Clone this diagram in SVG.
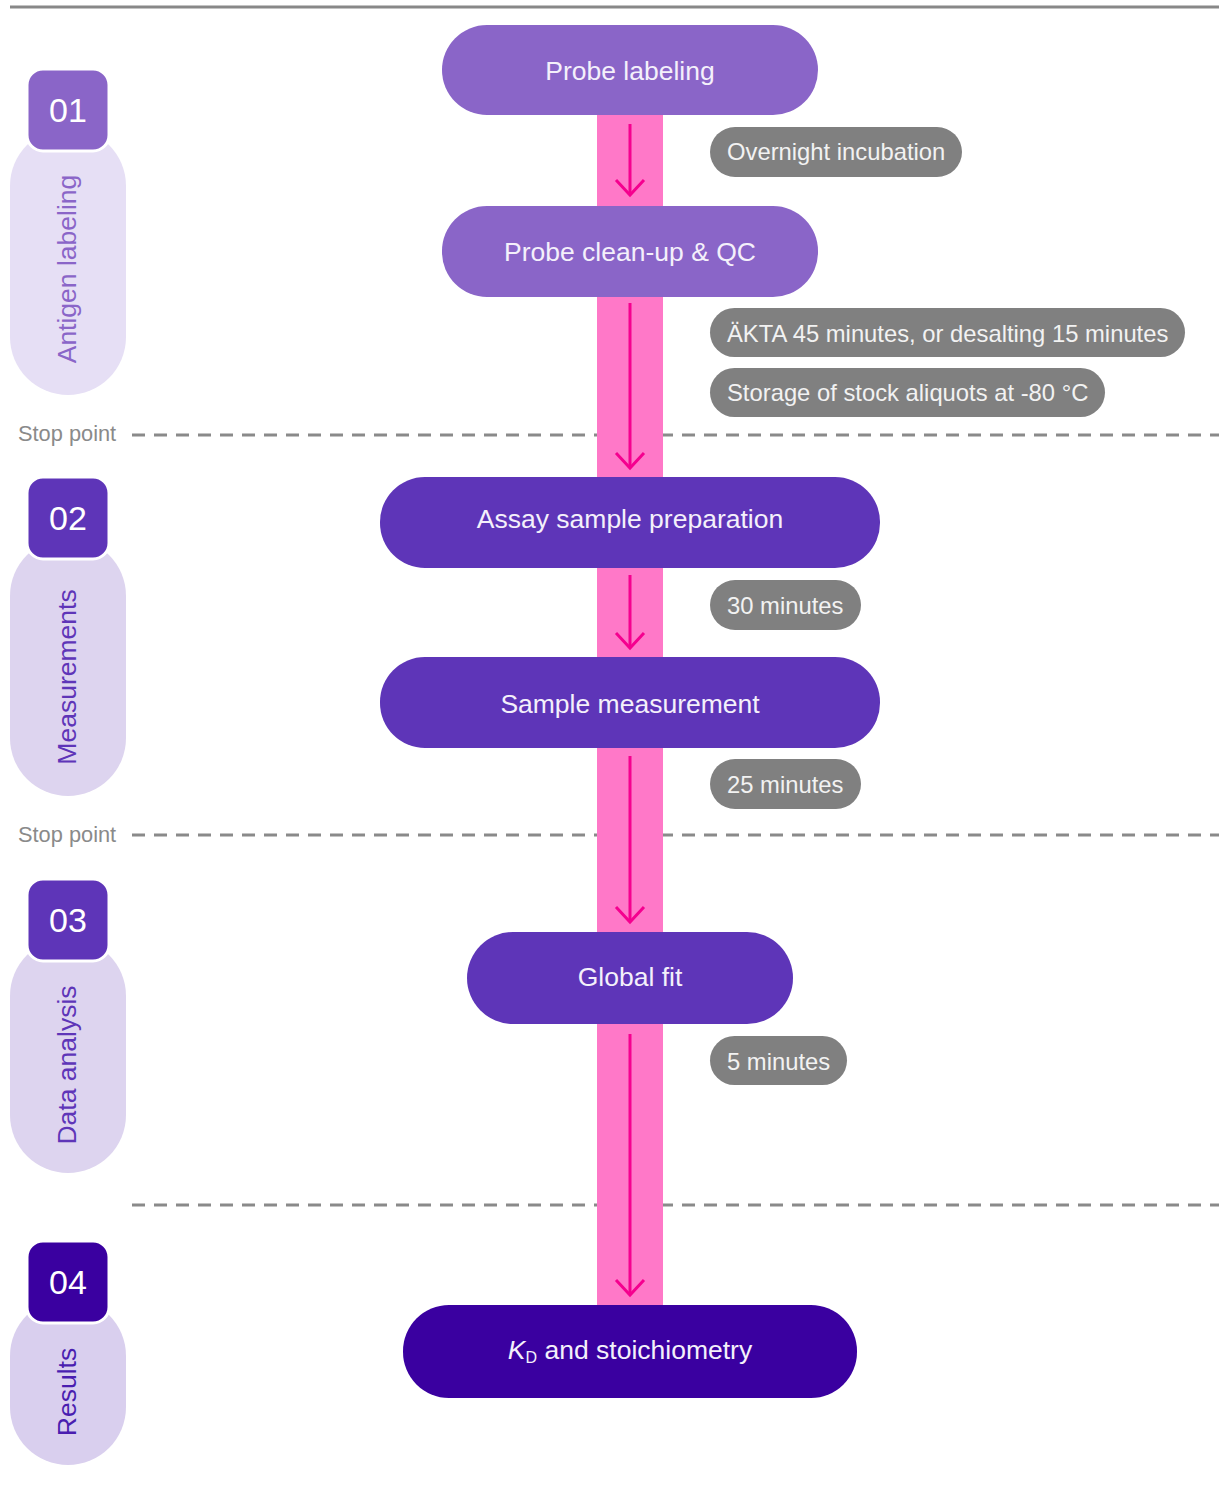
<svg xmlns="http://www.w3.org/2000/svg" width="1219" height="1492" viewBox="0 0 1219 1492">
<style>
.node text{font-family:"Liberation Sans",Arial,sans-serif;font-size:26.5px;fill:#f4f0fb;text-anchor:middle;dominant-baseline:central}
.pill rect{fill:#808080}
.pill text{font-family:"Liberation Sans",Arial,sans-serif;font-size:23.8px;fill:#f2f2f2;dominant-baseline:central}
.badge rect.b{stroke:#fff;stroke-width:3}
.badge text.n{font-family:"Liberation Sans",Arial,sans-serif;font-size:34px;fill:#fff;text-anchor:middle;dominant-baseline:central}
.badge text.v{font-family:"Liberation Sans",Arial,sans-serif;font-size:26.5px;text-anchor:middle;dominant-baseline:central}
.stop{font-family:"Liberation Sans",Arial,sans-serif;font-size:21.8px;fill:#8a8a8a}
.dash{stroke:#8a8a8a;stroke-width:3;stroke-dasharray:13 9}
.arr{stroke:#f5008f;stroke-width:3;fill:none}
</style>
<defs>
<marker id="ah" viewBox="0 0 20 32" refX="17" refY="16" markerWidth="20" markerHeight="32" markerUnits="userSpaceOnUse" orient="auto">
<path d="M2,2 L17,16 L2,30" fill="none" stroke="#f5008f" stroke-width="3"/>
</marker>
</defs>
<line x1="10" y1="7" x2="1219" y2="7" stroke="#888" stroke-width="3"/>

<g id="stop-lines">
<text class="stop" x="18" y="441">Stop point</text>
<line class="dash" x1="132" y1="435" x2="1219" y2="435"/>
<text class="stop" x="18" y="842">Stop point</text>
<line class="dash" x1="132" y1="835" x2="1219" y2="835"/>
<line class="dash" x1="132" y1="1205" x2="1219" y2="1205"/>
</g>

<g id="section-01" class="badge">
<rect x="10" y="128" width="116" height="267" rx="58" fill="#e6dff5"/>
<rect class="b" x="27" y="69" width="82" height="82" rx="16" fill="#8a65c8"/>
<text class="n" x="68" y="110">01</text>
<text class="v" x="67" y="269" fill="#8a65c8" transform="rotate(-90 67 269)">Antigen labeling</text>
</g>
<g id="section-02" class="badge">
<rect x="10" y="538" width="116" height="258" rx="58" fill="#ddd4ef"/>
<rect class="b" x="27" y="477" width="82" height="82" rx="16" fill="#5e35b8"/>
<text class="n" x="68" y="518">02</text>
<text class="v" x="67" y="677" fill="#5e35b8" transform="rotate(-90 67 677)">Measurements</text>
</g>
<g id="section-03" class="badge">
<rect x="10" y="938" width="116" height="235" rx="58" fill="#ddd4ef"/>
<rect class="b" x="27" y="879" width="82" height="82" rx="16" fill="#5e35b8"/>
<text class="n" x="68" y="920">03</text>
<text class="v" x="67" y="1065" fill="#5e35b8" transform="rotate(-90 67 1065)">Data analysis</text>
</g>
<g id="section-04" class="badge">
<rect x="10" y="1298" width="116" height="167" rx="58" fill="#d9cfee"/>
<rect class="b" x="27" y="1241" width="82" height="82" rx="16" fill="#3a00a0"/>
<text class="n" x="68" y="1282">04</text>
<text class="v" x="67" y="1392" fill="#4a1eb0" transform="rotate(-90 67 1392)">Results</text>
</g>

<rect id="flow-bar" x="597" y="110" width="66" height="1200" fill="#ff78c8"/>

<g id="connectors">
<line class="arr" x1="630" y1="124" x2="630" y2="195" marker-end="url(#ah)"/>
<line class="arr" x1="630" y1="303" x2="630" y2="468" marker-end="url(#ah)"/>
<line class="arr" x1="630" y1="575" x2="630" y2="648" marker-end="url(#ah)"/>
<line class="arr" x1="630" y1="756" x2="630" y2="922" marker-end="url(#ah)"/>
<line class="arr" x1="630" y1="1034" x2="630" y2="1295" marker-end="url(#ah)"/>
</g>

<g id="node-probe-labeling" class="node">
<rect x="442" y="25" width="376" height="90" rx="45" fill="#8a65c8"/>
<text x="630" y="71">Probe labeling</text>
</g>
<g id="node-probe-cleanup" class="node">
<rect x="442" y="206" width="376" height="91" rx="45" fill="#8a65c8"/>
<text x="630" y="252">Probe clean-up &amp; QC</text>
</g>
<g id="node-assay-prep" class="node">
<rect x="380" y="477" width="500" height="91" rx="45" fill="#5e35b8"/>
<text x="630" y="519">Assay sample preparation</text>
</g>
<g id="node-sample-measurement" class="node">
<rect x="380" y="657" width="500" height="91" rx="45" fill="#5e35b8"/>
<text x="630" y="704">Sample measurement</text>
</g>
<g id="node-global-fit" class="node">
<rect x="467" y="932" width="326" height="92" rx="46" fill="#5e35b8"/>
<text x="630" y="977">Global fit</text>
</g>
<g id="node-kd" class="node">
<rect x="403" y="1305" width="454" height="93" rx="46" fill="#3a00a0"/>
<text x="630" y="1350"><tspan font-style="italic">K</tspan><tspan font-size="16" dy="7">D</tspan><tspan dy="-7"> and stoichiometry</tspan></text>
</g>

<g id="pill-overnight" class="pill">
<rect x="710" y="127" width="252" height="50" rx="25"/>
<text x="727" y="151">Overnight incubation</text>
</g>
<g id="pill-akta" class="pill">
<rect x="710" y="308" width="475" height="49" rx="24.5"/>
<text x="727" y="333">ÄKTA 45 minutes, or desalting 15 minutes</text>
</g>
<g id="pill-storage" class="pill">
<rect x="710" y="368" width="395" height="49" rx="24.5"/>
<text x="727" y="392">Storage of stock aliquots at -80 °C</text>
</g>
<g id="pill-30" class="pill">
<rect x="710" y="580" width="151" height="50" rx="25"/>
<text x="727" y="605">30 minutes</text>
</g>
<g id="pill-25" class="pill">
<rect x="710" y="759" width="151" height="50" rx="25"/>
<text x="727" y="784">25 minutes</text>
</g>
<g id="pill-5" class="pill">
<rect x="710" y="1036" width="137" height="49" rx="24.5"/>
<text x="727" y="1061">5 minutes</text>
</g>
</svg>
